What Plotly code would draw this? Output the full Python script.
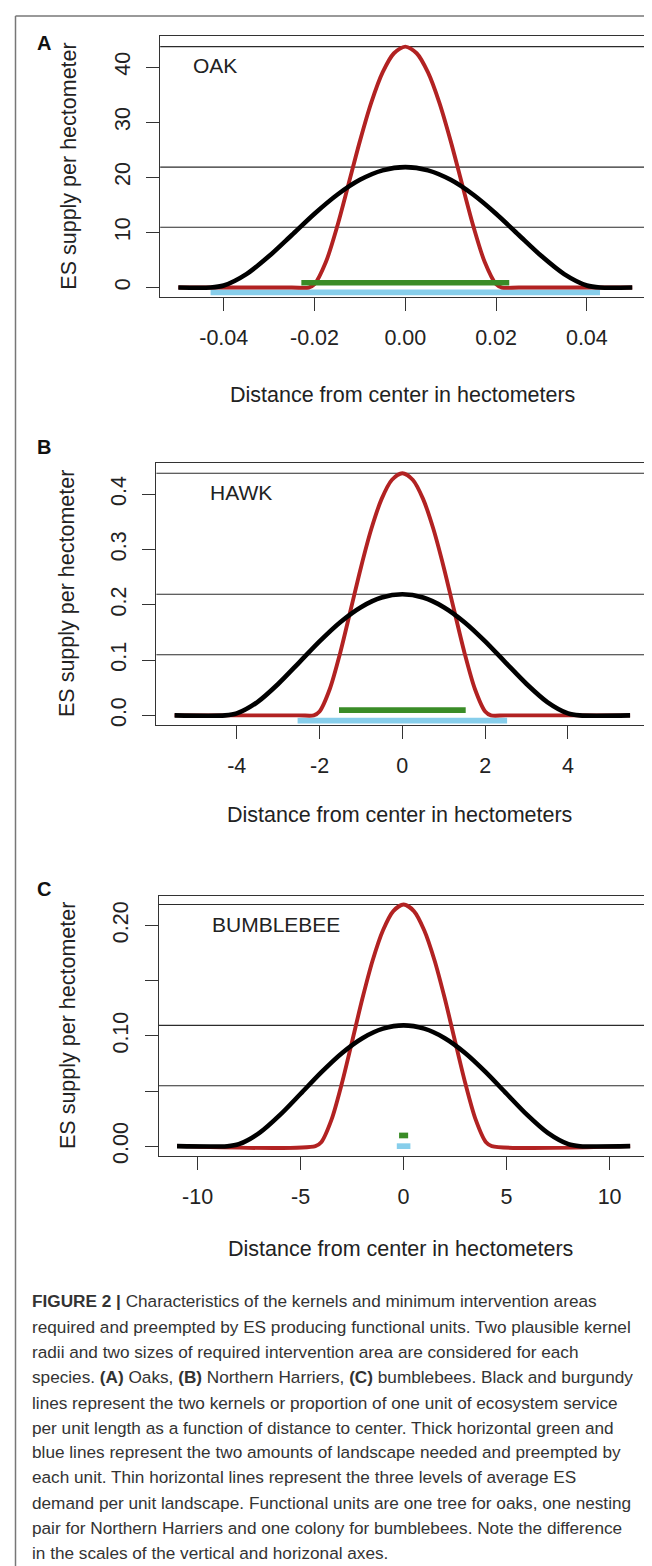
import plotly.graph_objects as go

W, H = 652, 1566

# ---------------- data ----------------
# Panel A (OAK)
oak_x_red = [-0.05, -0.025, -0.0213, -0.02, -0.0175, -0.015, -0.0125, -0.01, -0.0075, -0.005, -0.0025, 0.0,
             0.0025, 0.005, 0.0075, 0.01, 0.0125, 0.015, 0.0175, 0.02, 0.0213, 0.025, 0.05]
oak_y_red = [0, 0, 0, 0.61, 4.62, 11.10, 18.78, 26.56, 33.54, 39.02, 42.50, 43.7,
             42.50, 39.02, 33.54, 26.56, 18.78, 11.10, 4.62, 0.61, 0, 0, 0]
oak_x_black = [-0.05, -0.0429, -0.04, -0.035, -0.03, -0.025, -0.02, -0.015, -0.01, -0.005, 0.0,
               0.005, 0.01, 0.015, 0.02, 0.025, 0.03, 0.035, 0.04, 0.0429, 0.05]
oak_y_black = [0, 0, 0.37, 2.44, 5.71, 9.53, 13.39, 16.83, 19.54, 21.26, 21.85,
               21.26, 19.54, 16.83, 13.39, 9.53, 5.71, 2.44, 0.37, 0, 0]
oak_levels = [43.7, 21.85, 10.95]
oak_green_x = [-0.0229, 0.0229]
oak_green_y = [0.87, 0.87]
oak_blue_x = [-0.0429, 0.0429]
oak_blue_y = [-0.87, -0.87]

# Panel B (HAWK)
hawk_x_red = [-5.5, -2.5, -2.14, -2.0, -1.75, -1.5, -1.25, -1.0, -0.75, -0.5, -0.25, 0.0,
              0.25, 0.5, 0.75, 1.0, 1.25, 1.5, 1.75, 2.0, 2.14, 2.5, 5.5]
hawk_y_red = [0, 0, 0, 0.0070, 0.0481, 0.1133, 0.1901, 0.2676, 0.3370, 0.3915, 0.4261, 0.438,
              0.4261, 0.3915, 0.3370, 0.2676, 0.1901, 0.1133, 0.0481, 0.0070, 0, 0, 0]
hawk_x_black = [-5.5, -4.28, -4.0, -3.5, -3.0, -2.5, -2.0, -1.5, -1.0, -0.5, 0.0,
                0.5, 1.0, 1.5, 2.0, 2.5, 3.0, 3.5, 4.0, 4.28, 5.5]
hawk_y_black = [0, 0, 0.0035, 0.0240, 0.0567, 0.0950, 0.1338, 0.1685, 0.1957, 0.2131, 0.219,
                0.2131, 0.1957, 0.1685, 0.1338, 0.0950, 0.0567, 0.0240, 0.0035, 0, 0]
hawk_levels = [0.438, 0.219, 0.1095]
hawk_green_x = [-1.53, 1.53]
hawk_green_y = [0.0095, 0.0095]
hawk_blue_x = [-2.53, 2.53]
hawk_blue_y = [-0.0095, -0.0095]

# Panel C (BUMBLEBEE)
bee_x_red = [-11.0, -4.28, -4.0, -3.5, -3.0, -2.5, -2.0, -1.5, -1.0, -0.5, 0.0,
             0.5, 1.0, 1.5, 2.0, 2.5, 3.0, 3.5, 4.0, 4.28, 11.0]
bee_y_red = [0, 0, 0.0035, 0.0240, 0.0567, 0.0950, 0.1338, 0.1685, 0.1957, 0.2131, 0.219,
             0.2131, 0.1957, 0.1685, 0.1338, 0.0950, 0.0567, 0.0240, 0.0035, 0, 0]
bee_x_black = [-11.0, -8.56, -8.0, -7.0, -6.0, -5.0, -4.0, -3.0, -2.0, -1.0, 0.0,
               1.0, 2.0, 3.0, 4.0, 5.0, 6.0, 7.0, 8.0, 8.56, 11.0]
bee_y_black = [0, 0, 0.0018, 0.0120, 0.0283, 0.0475, 0.0669, 0.0843, 0.0979, 0.1065, 0.1095,
               0.1065, 0.0979, 0.0843, 0.0669, 0.0475, 0.0283, 0.0120, 0.0018, 0, 0]
bee_levels = [0.219, 0.1095, 0.0548]
bee_green_x = [-0.22, 0.22]
bee_green_y = [0.0097, 0.0097]
bee_blue_x = [-0.33, 0.33]
bee_blue_y = [0.0, 0.0]

# tick labels
oak_xticks = [-0.04, -0.02, 0.0, 0.02, 0.04]
oak_xtext = ["-0.04", "-0.02", "0.00", "0.02", "0.04"]
oak_yticks = [0, 10, 20, 30, 40]
oak_ytext = ["0", "10", "20", "30", "40"]
hawk_xticks = [-4, -2, 0, 2, 4]
hawk_xtext = ["-4", "-2", "0", "2", "4"]
hawk_yticks = [0.0, 0.1, 0.2, 0.3, 0.4]
hawk_ytext = ["0.0", "0.1", "0.2", "0.3", "0.4"]
bee_xticks = [-10, -5, 0, 5, 10]
bee_xtext = ["-10", "-5", "0", "5", "10"]
bee_yticks = [0.0, 0.05, 0.10, 0.15, 0.20]
bee_ytext = ["0.00", "", "0.10", "", "0.20"]

panel_names = ["OAK", "HAWK", "BUMBLEBEE"]
panel_letters = ["A", "B", "C"]
x_title = "Distance from center in hectometers"
y_title = "ES supply per hectometer"

caption_lines = [
    "<b>FIGURE 2 |</b> Characteristics of the kernels and minimum intervention areas",
    "required and preempted by ES producing functional units. Two plausible kernel",
    "radii and two sizes of required intervention area are considered for each",
    "species. <b>(A)</b> Oaks, <b>(B)</b> Northern Harriers, <b>(C)</b> bumblebees. Black and burgundy",
    "lines represent the two kernels or proportion of one unit of ecosystem service",
    "per unit length as a function of distance to center. Thick horizontal green and",
    "blue lines represent the two amounts of landscape needed and preempted by",
    "each unit. Thin horizontal lines represent the three levels of average ES",
    "demand per unit landscape. Functional units are one tree for oaks, one nesting",
    "pair for Northern Harriers and one colony for bumblebees. Note the difference",
    "in the scales of the vertical and horizonal axes.",
]

# ---------------- layout geometry (pixels) ----------------
panels = [
    dict(box=(152.2, 642.4, 28.3, 290.7), xr=[-0.054, 0.054], yr=[-1.75, 45.6],
         red=(oak_x_red, oak_y_red), black=(oak_x_black, oak_y_black), levels=oak_levels,
         green=(oak_green_x, oak_green_y), blue=(oak_blue_x, oak_blue_y),
         xt=(oak_xticks, oak_xtext), yt=(oak_yticks, oak_ytext),
         name_pos=(183.3, 58.0), letter_pos=(36.3, 35.3), ytitle_x=61.0, xtitle_y=389.0),
    dict(box=(148.4, 640.3, 457.3, 720.7), xr=[-5.94, 5.94], yr=[-0.0175, 0.4565],
         red=(hawk_x_red, hawk_y_red), black=(hawk_x_black, hawk_y_black), levels=hawk_levels,
         green=(hawk_green_x, hawk_green_y), blue=(hawk_blue_x, hawk_blue_y),
         xt=(hawk_xticks, hawk_xtext), yt=(hawk_yticks, hawk_ytext),
         name_pos=(200.3, 486.7), letter_pos=(36.0, 441.5), ytitle_x=59.0, xtitle_y=811.0),
    dict(box=(150.9, 640.3, 892.5, 1154.0), xr=[-11.88, 11.88], yr=[-0.009, 0.2268],
         red=(bee_x_red, bee_y_red), black=(bee_x_black, bee_y_black), levels=bee_levels,
         green=(bee_green_x, bee_green_y), blue=(bee_blue_x, bee_blue_y),
         xt=(bee_xticks, bee_xtext), yt=(bee_yticks, bee_ytext),
         name_pos=(202.3, 921.7), letter_pos=(36.0, 886.0), ytitle_x=60.0, xtitle_y=1247.0),
]

FONT = "Liberation Sans, Arial, Helvetica, sans-serif"
RED = "#B22222"
GREEN = "#3A8C27"
BLUE = "#87CEEB"
AXC = "#333333"
AXFS = 21.5

def px(x):
    return x / W

def py(y):
    return 1 - y / H

fig = go.Figure()
layout = dict(width=W, height=H, margin=dict(l=0, r=0, t=0, b=0),
              paper_bgcolor="white", plot_bgcolor="white", showlegend=False,
              font=dict(family=FONT, color="#222222"))
annotations = []
shapes = []

for i, p in enumerate(panels):
    k = "" if i == 0 else str(i + 1)
    xa, ya = "x" + k, "y" + k
    x0, x1, y0, y1 = p["box"]
    layout["xaxis" + k] = dict(
        domain=[px(x0), px(x1)], range=p["xr"], anchor=ya,
        showline=True, mirror=True, linecolor=AXC, linewidth=1,
        ticks="outside", ticklen=13, tickwidth=1, tickcolor=AXC,
        tickvals=p["xt"][0], ticktext=p["xt"][1],
        tickfont=dict(size=AXFS, family=FONT, color="#222222"),
        ticklabelstandoff=8,
        showgrid=False, zeroline=False, fixedrange=True)
    layout["yaxis" + k] = dict(
        domain=[py(y1), py(y0)], range=p["yr"], anchor=xa,
        showline=True, mirror=True, linecolor=AXC, linewidth=1,
        ticks="outside", ticklen=13, tickwidth=1, tickcolor=AXC,
        tickvals=p["yt"][0], ticktext=p["yt"][1], tickangle=-90,
        tickfont=dict(size=AXFS, family=FONT, color="#222222"),
        ticklabelstandoff=8,
        showgrid=False, zeroline=False, fixedrange=True)

    # thin horizontal demand lines
    for lv in p["levels"]:
        shapes.append(dict(type="line", xref=xa + " domain", yref=ya,
                           x0=0, x1=1, y0=lv, y1=lv,
                           line=dict(color="#2b2b2b", width=1.1), layer="below"))

    # blue & green bars, kernels
    fig.add_trace(go.Scatter(x=p["blue"][0], y=p["blue"][1], mode="lines",
                             line=dict(color=BLUE, width=5.7), xaxis=xa, yaxis=ya,
                             hoverinfo="skip"))
    fig.add_trace(go.Scatter(x=p["red"][0], y=p["red"][1], mode="lines",
                             line=dict(color=RED, width=3.9, shape="spline", smoothing=0.8),
                             xaxis=xa, yaxis=ya, hoverinfo="skip"))
    fig.add_trace(go.Scatter(x=p["black"][0], y=p["black"][1], mode="lines",
                             line=dict(color="black", width=4.6, shape="spline", smoothing=0.8),
                             xaxis=xa, yaxis=ya, hoverinfo="skip"))
    fig.add_trace(go.Scatter(x=p["green"][0], y=p["green"][1], mode="lines",
                             line=dict(color=GREEN, width=5.7), xaxis=xa, yaxis=ya,
                             hoverinfo="skip"))

    # species name
    annotations.append(dict(text=panel_names[i], xref="paper", yref="paper",
                            x=px(p["name_pos"][0]), y=py(p["name_pos"][1]),
                            xanchor="left", yanchor="middle", showarrow=False,
                            font=dict(size=21, family=FONT, color="#222222")))
    # panel letter
    annotations.append(dict(text="<b>" + panel_letters[i] + "</b>", xref="paper", yref="paper",
                            x=px(p["letter_pos"][0]), y=py(p["letter_pos"][1]),
                            xanchor="center", yanchor="middle", showarrow=False,
                            font=dict(size=20, family=FONT, color="#111111")))
    # y title
    annotations.append(dict(text=y_title, xref="paper", yref="paper",
                            x=px(p["ytitle_x"]), y=py((y0 + y1) / 2),
                            xanchor="center", yanchor="middle", showarrow=False, textangle=-90,
                            font=dict(size=AXFS, family=FONT, color="#222222")))
    # x title
    annotations.append(dict(text=x_title, xref="paper", yref="paper",
                            x=px((x0 + x1) / 2 - 3), y=py(p["xtitle_y"]),
                            xanchor="center", yanchor="middle", showarrow=False,
                            font=dict(size=AXFS, family=FONT, color="#222222")))

# caption
cap_y = [1300, 1325.5, 1351, 1376.5, 1401.7, 1426.8, 1451.9, 1477.0, 1502.3, 1527.6, 1553.0]
for line, yy in zip(caption_lines, cap_y):
    annotations.append(dict(text=line, xref="paper", yref="paper",
                            x=px(21.5), y=py(yy), xanchor="left", yanchor="middle",
                            showarrow=False,
                            font=dict(size=17.2, family=FONT, color="#333333")))

# outer frame (left and top)
shapes.append(dict(type="line", xref="paper", yref="paper", x0=px(7.5), x1=px(7.5),
                   y0=py(8), y1=0, line=dict(color="#777777", width=1.5)))
shapes.append(dict(type="line", xref="paper", yref="paper", x0=px(7.5), x1=1,
                   y0=py(8), y1=py(8), line=dict(color="#777777", width=1.5)))

layout["annotations"] = annotations
layout["shapes"] = shapes
fig.update_layout(**layout)
fig.write_html("out.html")
